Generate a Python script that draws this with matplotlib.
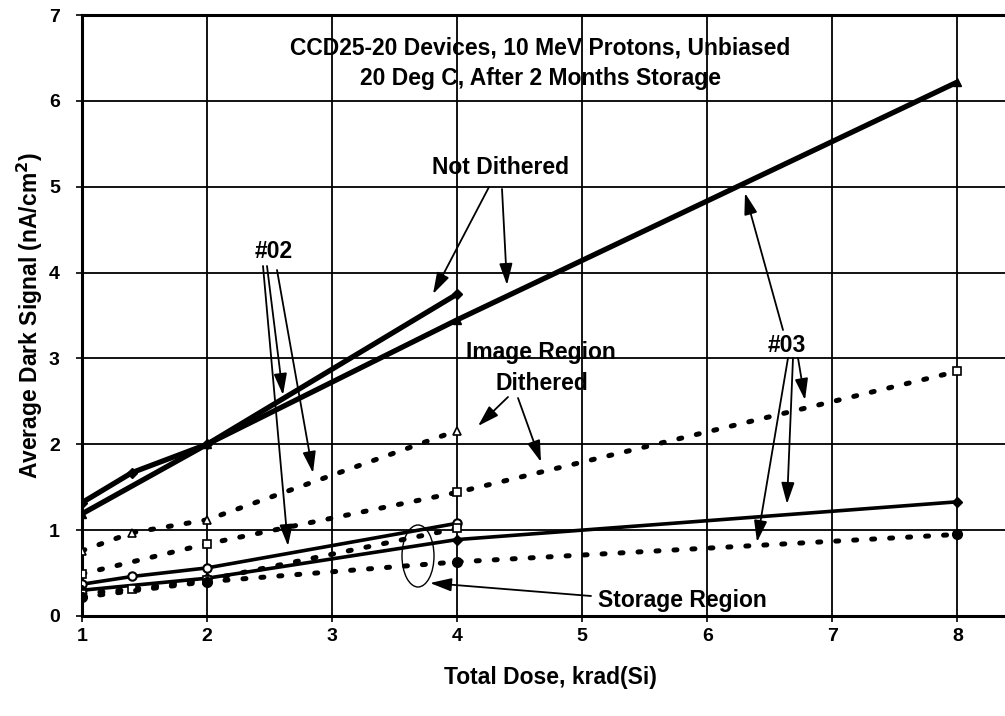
import matplotlib
matplotlib.use("Agg")
import matplotlib.pyplot as plt
from matplotlib.patches import Ellipse, FancyArrowPatch

plt.rcParams['font.family'] = ['Liberation Sans', 'DejaVu Sans']
plt.rcParams['font.weight'] = 'bold'

# Data (x = total dose krad(Si), y = average dark signal nA/cm^2)
x_nd02 = [1, 1.4, 2, 4]
y_nd02_img = [1.32, 1.67, 2.0, 3.75]
x_nd03 = [1, 2, 4, 8]
y_nd03_img = [1.19, 2.0, 3.45, 6.22]

x_d02 = [1, 1.4, 2, 4]
y_d02_img = [0.76, 0.97, 1.12, 2.16]
x_d03 = [1, 2, 4, 8]
y_d03_img = [0.49, 0.84, 1.44, 2.85]

y_nd02_sto = [0.37, 0.46, 0.56, 1.08]
y_nd03_sto = [0.30, 0.44, 0.89, 1.33]
y_d02_sto = [0.26, 0.31, 0.42, 1.02]
y_d03_sto = [0.22, 0.40, 0.63, 0.95]

xticks = [1, 2, 3, 4, 5, 6, 7, 8]
yticks = [0, 1, 2, 3, 4, 5, 6, 7]

FS = 16.5
fig = plt.figure(figsize=(10.05, 7.16), dpi=100)
ax = fig.add_axes([0.0816, 0.1397, 0.9184, 0.8393])

dot = (0, (0.6, 3.0))
DLW = 3.6
# Image region, not dithered
ax.plot(x_nd02, y_nd02_img, color='black', lw=3.8, marker='D', ms=5, solid_capstyle='butt', zorder=5)
ax.plot(x_nd03, y_nd03_img, color='black', lw=3.8, marker='^', ms=6, solid_capstyle='butt', zorder=5)
# Image region, dithered
ax.plot(x_d02, y_d02_img, color='black', lw=DLW, ls=dot, marker='^', ms=6, mfc='white', mew=1.2, dash_capstyle='round', zorder=5)
ax.plot(x_d03, y_d03_img, color='black', lw=DLW, ls=dot, marker='s', ms=6, mfc='white', mew=1.2, dash_capstyle='round', zorder=5)
# Storage region
ax.plot(x_nd02, y_nd02_sto, color='black', lw=2.6, marker='o', ms=6, mfc='white', mew=1.5, zorder=5)
ax.plot(x_nd03, y_nd03_sto, color='black', lw=2.6, marker='D', ms=5, zorder=5)
ax.plot(x_nd02, y_d02_sto, color='black', lw=DLW, ls=dot, marker='s', ms=6, mfc='white', mew=1.2, dash_capstyle='round', zorder=5)
ax.plot(x_d03, y_d03_sto, color='black', lw=DLW, ls=dot, marker='o', ms=7, dash_capstyle='round', zorder=5)

ax.set_xlim(1, 8.38)
ax.set_ylim(0, 7)
ax.set_xticks(xticks)
ax.set_yticks(yticks)
ax.set_xticklabels([str(v) for v in xticks], fontsize=14, fontweight='bold')
ax.set_yticklabels([str(v) for v in yticks], fontsize=14, fontweight='bold')
ax.tick_params(axis='x', length=4, width=1.2, direction='out', pad=5)
ax.tick_params(axis='y', length=4, width=1.2, direction='out', pad=12)
ax.grid(True, color='black', lw=1.3)
ax.set_axisbelow(True)
for s in ['left', 'bottom', 'top']:
    ax.spines[s].set_linewidth(2.2)
ax.spines['right'].set_visible(False)

ax.set_xlabel('Total Dose, krad(Si)', fontsize=FS, fontweight='bold', va='center')
ax.xaxis.set_label_coords(0.508, -0.103)
ax.set_ylabel('Average Dark Signal (nA/cm$^\\mathbf{2}$)', fontsize=FS, fontweight='bold', va='center')
ax.yaxis.set_label_coords(-0.0563, 0.5)

def px(xp, yp):
    # figure pixel coords (from top-left) -> figure fraction
    return (xp / 1005.0, 1 - yp / 716.0)

def txt(s, xp, yp):
    fig.text(*px(xp, yp), s, ha='center', va='center', fontsize=FS, fontweight='bold', zorder=10)

def arrow(x0, y0, x1, y1):
    fig.add_artist(FancyArrowPatch(px(x0, y0), px(x1, y1), transform=fig.transFigure,
                   arrowstyle='-|>,head_length=13,head_width=4', color='black', lw=1.3,
                   shrinkA=0, shrinkB=0, mutation_scale=1, zorder=10))

txt('CCD25-20 Devices, 10 MeV Protons, Unbiased', 540, 48)
txt('20 Deg C, After 2 Months Storage', 540, 79)
txt('Not Dithered', 500, 168)
arrow(489, 187, 433, 294)
arrow(502, 189, 507, 285)
txt('#02', 274, 251)
arrow(263, 266, 288, 546)
arrow(267, 266, 283, 395)
arrow(277, 270, 313, 473)
txt('Image Region', 541, 353)
txt('Dithered', 542, 383)
arrow(508, 397, 478, 426)
arrow(518, 398, 541, 462)
txt('#03', 787, 345)
arrow(783, 330, 745, 193)
arrow(788, 358, 757, 542)
arrow(793, 358, 787, 504)
arrow(798, 358, 805, 400)
txt('Storage Region', 682, 600)
arrow(591, 596, 430, 583)
fig.add_artist(Ellipse(px(418, 556), 32 / 1005.0, 62 / 716.0, transform=fig.transFigure,
                       fill=False, ec='black', lw=1.0, zorder=10))

fig.savefig('out.png', dpi=100, facecolor='white')
